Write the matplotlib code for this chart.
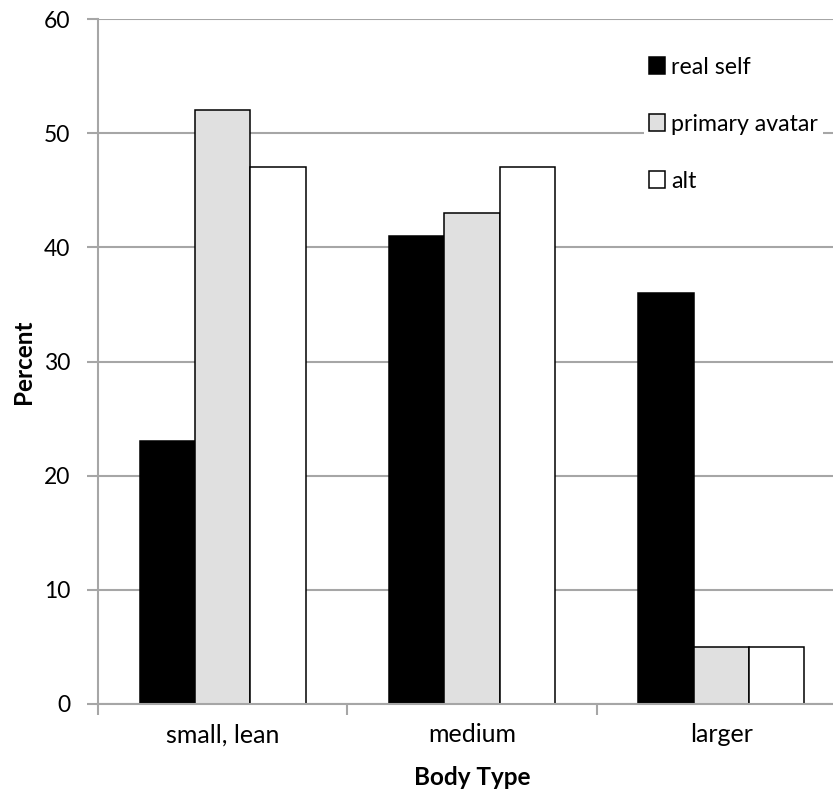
import matplotlib
matplotlib.use("Agg")
import matplotlib.pyplot as plt
import numpy as np
from matplotlib.patches import Patch

categories = ["small, lean", "medium", "larger"]
series_names = ["real self", "primary avatar", "alt"]
real_self = [23, 41, 36]
primary_avatar = [52, 43, 5]
alt = [47, 47, 5]
y_ticks = [0, 10, 20, 30, 40, 50, 60]

colors = ["#000000", "#e0e0e0", "#ffffff"]
grid_col = "#a6a6a6"

plt.rcParams["font.family"] = ["Lato", "DejaVu Sans"]

W, H = 833, 796
fig = plt.figure(figsize=(W / 100, H / 100), dpi=100)
left, right, top, bottom = 98, 846, 19, 704
ax = fig.add_axes([left / W, 1 - bottom / H, (right - left) / W, (bottom - top) / H])

x = np.arange(len(categories))
bw = 0.222
for i, vals in enumerate([real_self, primary_avatar, alt]):
    ax.bar(x + (i - 1) * bw, vals, width=bw, color=colors[i],
           edgecolor="black", linewidth=1.1, zorder=3, label=series_names[i])

ax.set_xlim(-0.5, len(categories) - 0.5)
ax.set_ylim(0, 60)
ax.set_yticks(y_ticks)
ax.yaxis.grid(True, color=grid_col, linewidth=1.5, zorder=0)

# category boundaries carry the tick marks, centres carry the labels
ax.set_xticks(np.arange(len(categories) + 1) - 0.5)
ax.set_xticklabels([])
ax.set_xticks(x, minor=True)
ax.set_xticklabels(categories, minor=True)
ax.tick_params(axis="x", which="minor", length=0, pad=14, labelsize=18)
ax.tick_params(axis="x", which="major", length=8, width=1.5, color=grid_col)
ax.tick_params(axis="y", length=8, width=1.5, color=grid_col, pad=12, labelsize=16.5)

for s in ["top", "right"]:
    ax.spines[s].set_visible(False)
for s in ["left", "bottom"]:
    ax.spines[s].set_color(grid_col)
    ax.spines[s].set_linewidth(1.5)
    ax.spines[s].set_zorder(4)

ax.set_ylabel("Percent", fontsize=17.5, fontweight="bold", labelpad=6)
ax.set_xlabel("Body Type", fontsize=17.5, fontweight="bold", labelpad=14)

handles = [Patch(facecolor=c, edgecolor="black", linewidth=1.1) for c in colors]
leg = fig.legend(handles, series_names, loc="upper left",
                 bbox_to_anchor=(644 / W, 1 - 52 / H), frameon=True,
                 facecolor="white", edgecolor="none", framealpha=1,
                 fontsize=16.7, handlelength=0.72, handleheight=0.72,
                 handletextpad=0.25, labelspacing=1.55, borderpad=0.2,
                 borderaxespad=0, fancybox=False)
leg.set_zorder(10)

fig.savefig("out.png", dpi=100)
